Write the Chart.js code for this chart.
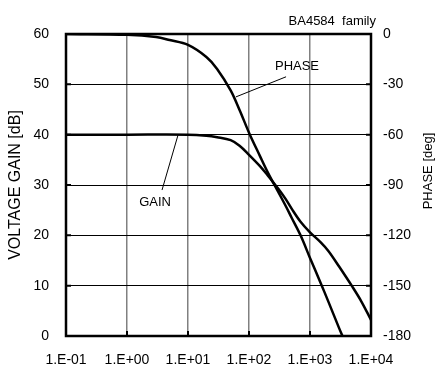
<!DOCTYPE html>
<html>
<head>
<meta charset="utf-8">
<script src="https://cdn.jsdelivr.net/npm/chart.js@4.4.0/dist/chart.umd.min.js"></script>
<style>
    body { margin: 0; background: #fff; }
    canvas { display: block; }
</style>
</head>
<body>
<canvas id="myChart" width="439" height="370"></canvas>
<script>
    // frequency axis (log), decades only
    var xTicks = [0.1, 1, 10, 100, 1000, 10000];
    var xTickLabels = ["1.E-01", "1.E+00", "1.E+01", "1.E+02", "1.E+03", "1.E+04"];
    var gainTicks = [0, 10, 20, 30, 40, 50, 60];
    var phaseTicks = [-180, -150, -120, -90, -60, -30, 0];

    // voltage gain [dB]
    var gainFreq = [0.1, 1, 10, 20, 30, 50, 70, 100, 150, 200, 300, 400, 500, 700, 1000, 1500, 2000, 3000, 5000, 7000, 10000];
    var gainValues = [40, 40, 40, 39.8, 39.5, 38.9, 37.8, 36.0, 33.8, 32.0, 29.3, 27.2, 25.3, 22.7, 20.6, 18.6, 16.9, 13.8, 9.7, 6.8, 3.2];

    // phase [deg]
    var phaseFreq = [0.1, 1, 3, 5, 10, 20, 30, 50, 70, 100, 150, 200, 300, 400, 500, 700, 1000, 1500, 2000, 3000, 3400];
    var phaseValues = [0, -0.5, -1.8, -3.6, -6.5, -13.7, -20.8, -33.6, -45.3, -58.8, -72.5, -82, -94, -102.5, -109.5, -120, -133.5, -148.5, -159.5, -175.3, -180];

    var fontName = "'Liberation Sans', Arial, sans-serif";

    function toPoints(xs, ys) {
        return xs.map(function (x, i) { return { x: x, y: ys[i] }; });
    }

    // border, inner tick marks, title and labels
    var framePlugin = {
        id: 'frame',
        afterDraw: function (chart) {
            var ctx = chart.ctx;
            var a = chart.chartArea;
            var sx = chart.scales.x, sy = chart.scales.y, sy2 = chart.scales.y2;
            ctx.save();
            ctx.strokeStyle = '#000';
            ctx.lineWidth = 2;
            ctx.beginPath();
            gainTicks.forEach(function (v) {
                var p = sy.getPixelForValue(v);
                ctx.moveTo(a.left, p); ctx.lineTo(a.left + 5, p);
            });
            phaseTicks.forEach(function (v) {
                var p = sy2.getPixelForValue(v);
                ctx.moveTo(a.right, p); ctx.lineTo(a.right - 5, p);
            });
            xTicks.forEach(function (v) {
                var p = sx.getPixelForValue(v);
                ctx.moveTo(p, a.bottom); ctx.lineTo(p, a.bottom - 5);
            });
            ctx.stroke();

            ctx.lineWidth = 2.5;
            ctx.strokeRect(a.left, a.top, a.right - a.left, a.bottom - a.top);

            ctx.fillStyle = '#000';
            ctx.font = '13px ' + fontName;
            ctx.textAlign = 'right';
            ctx.textBaseline = 'middle';
            ctx.fillText('BA4584  family', 376, 21);

            // curve labels with leader lines
            ctx.lineWidth = 1;
            ctx.beginPath();
            ctx.moveTo(sx.getPixelForValue(61), sy.getPixelForValue(47.5));
            ctx.lineTo(sx.getPixelForValue(405), sy.getPixelForValue(51.5));
            ctx.moveTo(sx.getPixelForValue(6.85), sy.getPixelForValue(39.9));
            ctx.lineTo(sx.getPixelForValue(3.75), sy.getPixelForValue(29.0));
            ctx.stroke();

            ctx.textAlign = 'center';
            ctx.fillText('PHASE', sx.getPixelForValue(612), sy.getPixelForValue(53.6));
            ctx.fillText('GAIN', sx.getPixelForValue(2.88), sy.getPixelForValue(26.6));

            // right axis title, reading upwards
            ctx.translate(428, 171);
            ctx.rotate(-Math.PI / 2);
            ctx.fillText('PHASE [deg]', 0, 0);
            ctx.restore();
        }
    };

    new Chart("myChart", {
        type: "line",
        data: {
            datasets: [{
                label: "GAIN",
                data: toPoints(gainFreq, gainValues),
                yAxisID: "y",
                borderColor: "#000",
                borderWidth: 2.5,
                pointRadius: 0,
                fill: false,
                tension: 0.35
            }, {
                label: "PHASE",
                data: toPoints(phaseFreq, phaseValues),
                yAxisID: "y2",
                borderColor: "#000",
                borderWidth: 2.5,
                pointRadius: 0,
                fill: false,
                tension: 0.35
            }]
        },
        options: {
            responsive: false,
            animation: false,
            devicePixelRatio: 1,
            layout: { padding: { top: 34, left: 0, right: 0, bottom: 0 } },
            plugins: {
                legend: { display: false },
                tooltip: { enabled: false }
            },
            scales: {
                x: {
                    type: "logarithmic",
                    min: 0.1,
                    max: 10000,
                    afterBuildTicks: function (scale) {
                        scale.ticks = xTicks.map(function (v) { return { value: v }; });
                    },
                    afterFit: function (scale) { scale.height = 34; },
                    border: { display: false },
                    grid: { color: "#808080", lineWidth: 1.5, drawTicks: false },
                    ticks: {
                        autoSkip: false,
                        maxRotation: 0,
                        padding: 16,
                        color: "#000",
                        font: { family: fontName, size: 14 },
                        callback: function (value) {
                            var i = xTicks.indexOf(value);
                            return i >= 0 ? xTickLabels[i] : "";
                        }
                    }
                },
                y: {
                    position: "left",
                    min: 0,
                    max: 60,
                    afterFit: function (scale) { scale.width = 66; },
                    border: { display: false },
                    grid: { color: "#000", lineWidth: 1, drawTicks: false },
                    ticks: {
                        stepSize: 10,
                        padding: 17,
                        color: "#000",
                        font: { family: fontName, size: 14 }
                    },
                    title: {
                        display: true,
                        text: "VOLTAGE GAIN [dB]",
                        color: "#000",
                        font: { family: fontName, size: 16 },
                        padding: { top: 6, bottom: 0 }
                    }
                },
                y2: {
                    position: "right",
                    min: -180,
                    max: 0,
                    afterFit: function (scale) { scale.width = 68; },
                    border: { display: false },
                    grid: { display: false, drawTicks: false },
                    ticks: {
                        stepSize: 30,
                        padding: 12,
                        color: "#000",
                        font: { family: fontName, size: 14 }
                    }
                }
            }
        },
        plugins: [framePlugin]
    });
</script>
</body>
</html>
